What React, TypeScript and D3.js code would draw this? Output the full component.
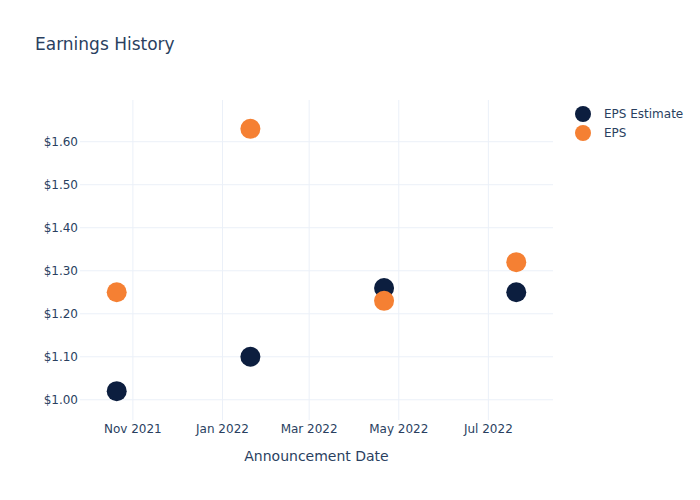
import React from "react";
import * as d3 from "d3";

const dates = ["2021-10-21", "2022-01-20", "2022-04-21", "2022-07-20"];
const epsEstimate = [1.02, 1.1, 1.26, 1.25];
const eps = [1.25, 1.63, 1.23, 1.32];
const yTicks = [1.0, 1.1, 1.2, 1.3, 1.4, 1.5, 1.6];
const xTickDates = ["2021-11-01", "2022-01-01", "2022-03-01", "2022-05-01", "2022-07-01"];
const seriesNames = ["EPS Estimate", "EPS"];
const seriesColors = ["#0c1e3f", "#f58033"];

const W = 700;
const H = 500;
const left = 80;
const right = 553;
const top = 100;
const bottom = 420;
const font = "'DejaVu Sans', sans-serif";
const textColor = "#2a3f5f";
const gridColor = "#ebf0f8";

export default function App() {
  const parse = d3.utcParse("%Y-%m-%d");
  const x = d3
    .scaleUtc()
    .domain([parse("2021-09-26")!, parse("2022-08-14")!])
    .range([left, right]);
  const y = d3.scaleLinear().domain([0.953, 1.697]).range([bottom, top]);
  const fmtX = d3.utcFormat("%b %Y");
  const series = [epsEstimate, eps];

  return (
    <svg width={W} height={H} style={{ display: "block", position: "absolute", left: 0, top: 0, background: "#fff" }}>
      <rect x={0} y={0} width={W} height={H} fill="#fff" />
      {xTickDates.map((d) => {
        const xp = x(parse(d)!);
        return <line key={d} x1={xp} x2={xp} y1={top} y2={bottom} stroke={gridColor} strokeWidth={1} />;
      })}
      {yTicks.map((t) => (
        <line key={t} x1={left} x2={right} y1={y(t)} y2={y(t)} stroke={gridColor} strokeWidth={1} />
      ))}
      {yTicks.map((t) => (
        <text key={"l" + t} x={left - 2} y={y(t)} dy="0.35em" textAnchor="end" fontSize={12} fill={textColor} fontFamily={font}>
          {"$" + d3.format(".2f")(t)}
        </text>
      ))}
      {xTickDates.map((d) => (
        <text key={"x" + d} x={x(parse(d)!)} y={bottom + 4} dy="0.71em" textAnchor="middle" fontSize={12} fill={textColor} fontFamily={font}>
          {fmtX(parse(d)!)}
        </text>
      ))}
      <text x={(left + right) / 2} y={461} textAnchor="middle" fontSize={14} fill={textColor} fontFamily={font}>
        Announcement Date
      </text>
      <text x={35} y={50} fontSize={17} fill={textColor} fontFamily={font}>
        Earnings History
      </text>
      {series.map((vals, si) =>
        vals.map((v, i) => (
          <circle key={si + "-" + i} cx={x(parse(dates[i])!)} cy={y(v)} r={10} fill={seriesColors[si]} />
        ))
      )}
      {seriesNames.map((n, i) => (
        <g key={n} transform={`translate(583, ${114 + i * 19})`}>
          <circle cx={0} cy={0} r={8} fill={seriesColors[i]} />
          <text x={21} y={0} dy="0.35em" fontSize={12} fill={textColor} fontFamily={font}>
            {n}
          </text>
        </g>
      ))}
    </svg>
  );
}
